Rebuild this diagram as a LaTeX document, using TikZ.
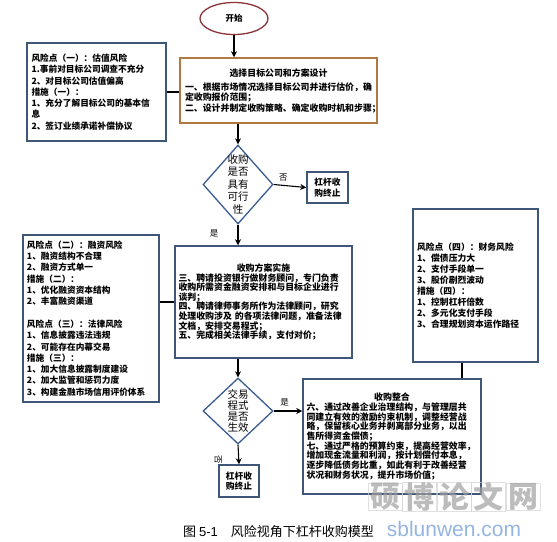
\documentclass[tikz,border=0pt]{standalone}
\usepackage{fontspec}
\setmainfont{Noto Sans CJK SC}
\newfontfamily\latinsans{Liberation Sans}
\usetikzlibrary{shapes.geometric,arrows.meta}
\definecolor{boxblue}{RGB}{62,86,120}
\definecolor{boxbrown}{RGB}{178,120,66}
\definecolor{startred}{RGB}{140,52,58}
\definecolor{diablue}{RGB}{58,92,145}
\definecolor{wmgray}{RGB}{160,160,160}
\definecolor{wmblue}{RGB}{130,168,220}
\tikzset{
  bluebox/.style={draw=boxblue, line width=1.5pt, rectangle, inner ysep=0pt, align=left, anchor=center},
  brownbox/.style={draw=boxbrown, line width=1.5pt, rectangle, inner ysep=0pt, align=left, anchor=center},
  decision/.style={diamond, draw=diablue, line width=1.3pt, inner sep=0pt},
  dtext/.style={align=center, font=\fontsize{10.5}{12.5}\selectfont, inner sep=0pt},
  flow/.style={line width=1.1pt, -{Stealth[length=6pt,width=6pt]}},
  link/.style={line width=1.1pt},
  lbl/.style={font=\fontsize{8.5}{9}\selectfont, inner sep=0pt},
  stopbox/.style={draw=boxblue, line width=1.5pt, rectangle, align=center, inner sep=0pt, font=\bfseries\fontsize{8.7}{10.5}\selectfont}
}
\newcommand{\ttl}[1]{\hbox to \hsize{\hfil #1\hfil}}
\begin{document}
\begin{tikzpicture}[x=1pt,y=-1pt]
\useasboundingbox (0,0) rectangle (557,541);
\fill[white] (0,0) rectangle (557,541);

% start
\node[ellipse, draw=startred, line width=1.3pt, minimum width=68pt, minimum height=32pt, font=\bfseries\fontsize{8.5}{9}\selectfont] (start) at (234,18.5) {开始};

% box 1
\node[brownbox, text width=187pt, inner xsep=5pt, minimum height=65pt, font=\bfseries\fontsize{8.9}{10.3}\selectfont] (box1) at (278.5,90.5) {\ttl{选择目标公司和方案设计}\\[4pt]一、根据市场情况选择目标公司并进行估价，确\\定收购报价范围；\\二、设计并制定收购策略、确定收购时机和步骤；};

% left box 1
\node[bluebox, text width=130pt, inner xsep=4.5pt, minimum height=98pt, font=\bfseries\fontsize{8.7}{11.3}\selectfont] (left1) at (96.5,92) {风险点（一）：估值风险\\1.事前对目标公司调查不充分\\ 2、对目标公司估值偏高\\措施（一）：\\1、充分了解目标公司的基本信\\息\\2、签订业绩承诺补偿协议};

% decision 1
\node[decision, minimum width=70pt, minimum height=79pt] (d1) at (238,184.5) {};
\node[dtext] (d1t) at (d1.center) {收购\\是否\\具有\\可行\\性};

% stop 1
\node[stopbox, minimum width=41pt, minimum height=31pt] (stop1) at (327.5,187.5) {杠杆收\\购终止};

% box 2
\node[bluebox, text width=170pt, inner xsep=3.5pt, minimum height=112pt, font=\bfseries\fontsize{8.9}{9.6}\selectfont] (box2) at (263.5,302) {\ttl{收购方案实施}\\三、聘请投资银行做财务顾问，专门负责\\收购所需资金融资安排和与目标企业进行\\谈判；\\四、聘请律师事务所作为法律顾问，研究\\处理收购涉及 的各项法律问题，准备法律\\文档，安排交易程式；\\五、完成相关法律手续，支付对价；};

% left box 2
\node[bluebox, text width=128pt, inner xsep=4pt, minimum height=167pt, font=\bfseries\fontsize{8.7}{11.3}\selectfont] (left2) at (91,318.5) {风险点（二）：融资风险\\1、融资结构不合理\\2、融资方式单一\\措施（二）：\\1、优化融资资本结构\\2、丰富融资渠道\\[11.3pt]风险点（三）：法律风险\\1、信息披露违法违规\\2、可能存在内幕交易\\措施（三）：\\1、加大信息披露制度建设\\2、加大监管和惩罚力度\\3、构建金融市场信用评价体系};

% right box
\node[bluebox, text width=117pt, inner xsep=4pt, minimum height=153pt, font=\bfseries\fontsize{8.8}{11}\selectfont] (right) at (475.5,285.5) {风险点（四）：财务风险\\1、偿债压力大\\2、支付手段单一\\3、股价剧烈波动\\措施（四）：\\1、控制杠杆倍数\\2、多元化支付手段\\3、合理规划资本运作路径};

% decision 2
\node[decision, minimum width=70pt, minimum height=66pt] (d2) at (238,411) {};
\node[dtext, font=\fontsize{10.5}{10.8}\selectfont] (d2t) at (d2.center) {交易\\程式\\是否\\生效};

% stop 2
\node[stopbox, minimum width=40pt, minimum height=32pt] (stop2) at (239,481) {杠杆收\\购终止};

% box 3
\node[bluebox, text width=171pt, inner xsep=3.5pt, minimum height=115pt, font=\bfseries\fontsize{8.9}{9.7}\selectfont] (box3) at (392,436.5) {\ttl{收购整合}\\六、通过改善企业治理结构，与管理层共\\同建立有效的激励约束机制，调整经营战\\略，保留核心业务并剥离部分业务，以出\\售所得资金偿债；\\七、通过严格的预算约束，提高经营效率，\\增加现金流量和利润，按计划偿付本息，\\逐步降低债务比重，如此有利于改善经营\\状况和财务状况，提升市场价值；};

% connectors
\draw[flow] (start.south) -- (start.south |- box1.north);
\draw[flow] (d1.north |- box1.south) -- (d1.north);
\draw[link] (left1.east) -- (left1.east -| box1.west);
\draw[flow] (d1.east) -- (stop1.west) node[lbl, pos=0.3, above=4pt] (no1) {否};
\draw[flow] (d1.south) -- (d1.south |- box2.north);
\node[lbl] (yes1) at (214,233) {是};
\draw[link] (left2.east |- box2.west) -- (box2.west);
\draw[flow] (d2.north |- box2.south) -- (d2.north);
\draw[flow] (d2.east) -- (d2.east -| box3.west) node[lbl, pos=0.38, above=4pt] (yes2) {是};
\draw[flow] (d2.south) -- (stop2.north);
\node[lbl, rotate=-90] (no2) at (218,460) {否};
\coordinate (rb) at (box3.north -| 462,0);
\draw[link] (right.south -| rb) -- (rb);

% caption
\node[font=\fontsize{13}{14}\selectfont, inner sep=0pt] (cap) at (278.5,532) {图 {\latinsans 5-1}\quad 风险视角下杠杆收购模型};

% watermark
\foreach \i/\c in {0/硕,1/博,2/论,3/文,4/网}{
  \node[draw=wmgray!45, line width=0.6pt, minimum width=34pt, minimum height=24pt, inner sep=0pt, text=wmgray, font=\bfseries\fontsize{30}{30}\selectfont, opacity=0.7] (wm\i) at (385+\i*34.5,497) {\c};
}
\node[text=wmblue, font=\latinsans\fontsize{21}{21}\selectfont, inner sep=0pt, opacity=0.85] (wmurl) at (454,529) {sblunwen.com};
\end{tikzpicture}
\end{document}
